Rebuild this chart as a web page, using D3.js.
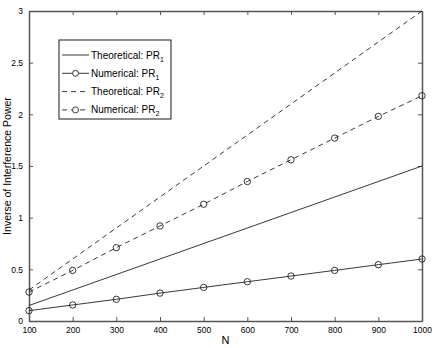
<!DOCTYPE html>
<html>
<head>
<meta charset="utf-8">
<script src="https://cdn.jsdelivr.net/npm/d3@7"></script>
<style>
  body { margin: 0; background: #fff; }
  svg { font-family: "Liberation Sans", Arial, sans-serif; }
</style>
</head>
<body>
<div id="chart"></div>
<script>
// data
var nValues = [100, 200, 300, 400, 500, 600, 700, 800, 900, 1000];
var theoPR1 = [0.15, 1.5];            // at N = 100 and N = 1000
var theoPR2 = [0.3, 3.0];
var theoN = [100, 1000];
var numPR1 = [0.10, 0.155, 0.21, 0.27, 0.325, 0.38, 0.435, 0.49, 0.545, 0.60];
var numPR2 = [0.28, 0.49, 0.71, 0.92, 1.13, 1.35, 1.56, 1.77, 1.98, 2.18];
var xTicks = [100, 200, 300, 400, 500, 600, 700, 800, 900, 1000];
var yTicks = [0, 0.5, 1, 1.5, 2, 2.5, 3];
var legendItems = [
  {label: "Theoretical: PR", sub: "1", dash: null, marker: false},
  {label: "Numerical: PR", sub: "1", dash: null, marker: true},
  {label: "Theoretical: PR", sub: "2", dash: "5,4", marker: false},
  {label: "Numerical: PR", sub: "2", dash: "5,4", marker: true}
];

var W = 436, H = 348;
var margin = {top: 11, right: 14, bottom: 27, left: 29};
var width = W - margin.left - margin.right,
    height = H - margin.top - margin.bottom;

var svg = d3.select("#chart").append("svg")
  .attr("width", W).attr("height", H);

var g = svg.append("g").attr("transform", "translate(" + margin.left + "," + margin.top + ")");

var x = d3.scaleLinear().domain([100, 1000]).range([0, width]);
var y = d3.scaleLinear().domain([0, 3]).range([height, 0]);

var axisColor = "#555";
var tickLen = 4;

// ticks on all four sides (pointing inward)
var xAxisB = d3.axisBottom(x).tickValues(xTicks).tickSizeInner(-tickLen).tickSizeOuter(0).tickPadding(6).tickFormat(d3.format("d"));
var xAxisT = d3.axisTop(x).tickValues(xTicks).tickSizeInner(-tickLen).tickSizeOuter(0).tickFormat("");
var yAxisL = d3.axisLeft(y).tickValues(yTicks).tickSizeInner(-tickLen).tickSizeOuter(0).tickPadding(6).tickFormat(d3.format("~g"));
var yAxisR = d3.axisRight(y).tickValues(yTicks).tickSizeInner(-tickLen).tickSizeOuter(0).tickFormat("");

function styleAxis(sel) {
  sel.select(".domain").attr("stroke", axisColor).attr("stroke-width", 1.5);
  sel.selectAll(".tick line").attr("stroke", axisColor);
  sel.selectAll(".tick text").attr("fill", "#000").style("font-size", "8.5px");
}

g.append("g").attr("transform", "translate(0," + height + ")").call(xAxisB).call(styleAxis);
g.append("g").call(xAxisT).call(styleAxis);
g.append("g").call(yAxisL).call(styleAxis);
g.append("g").attr("transform", "translate(" + width + ",0)").call(yAxisR).call(styleAxis);

// axis labels
svg.append("text")
  .attr("x", margin.left + width / 2).attr("y", H - 4)
  .attr("text-anchor", "middle").style("font-size", "11px")
  .text("N");
svg.append("text")
  .attr("transform", "translate(11," + (margin.top + height / 2) + ") rotate(-90)")
  .attr("text-anchor", "middle").style("font-size", "10.5px")
  .text("Inverse of Interference Power");

var lineColor = "#222";
var line = d3.line().x(function(d){ return x(d[0]); }).y(function(d){ return y(d[1]); });

function drawSeries(xs, ys, dash, marker) {
  var pts = xs.map(function(v, i){ return [v, ys[i]]; });
  g.append("path")
    .datum(pts)
    .attr("d", line)
    .attr("fill", "none")
    .attr("stroke", lineColor)
    .attr("stroke-width", 0.9)
    .attr("stroke-dasharray", dash);
  if (marker) {
    g.selectAll(null).data(pts).enter().append("circle")
      .attr("cx", function(d){ return x(d[0]); })
      .attr("cy", function(d){ return y(d[1]); })
      .attr("r", 3.2)
      .attr("fill", "none")
      .attr("stroke", lineColor)
      .attr("stroke-width", 0.9);
  }
}

drawSeries(theoN, theoPR1, null, false);
drawSeries(nValues, numPR1, null, true);
drawSeries(theoN, theoPR2, "5,4", false);
drawSeries(nValues, numPR2, "5,4", true);

// legend
var legend = svg.append("g").attr("transform", "translate(59,40)");
legend.append("rect")
  .attr("width", 112).attr("height", 79)
  .attr("fill", "#fff").attr("stroke", "#000").attr("stroke-width", 0.9);

legendItems.forEach(function(it, i) {
  var yy = 15 + i * 18.3;
  legend.append("line")
    .attr("x1", 3).attr("x2", 30).attr("y1", yy).attr("y2", yy)
    .attr("stroke", lineColor).attr("stroke-width", 0.9)
    .attr("stroke-dasharray", it.dash);
  if (it.marker) {
    legend.append("circle")
      .attr("cx", 16.5).attr("cy", yy).attr("r", 3)
      .attr("fill", "#fff").attr("stroke", lineColor).attr("stroke-width", 0.9);
  }
  var t = legend.append("text")
    .attr("x", 32).attr("y", yy + 3.5)
    .style("font-size", "10px");
  t.append("tspan").text(it.label);
  t.append("tspan").attr("dy", 3).style("font-size", "7px").text(it.sub);
});
</script>
</body>
</html>
